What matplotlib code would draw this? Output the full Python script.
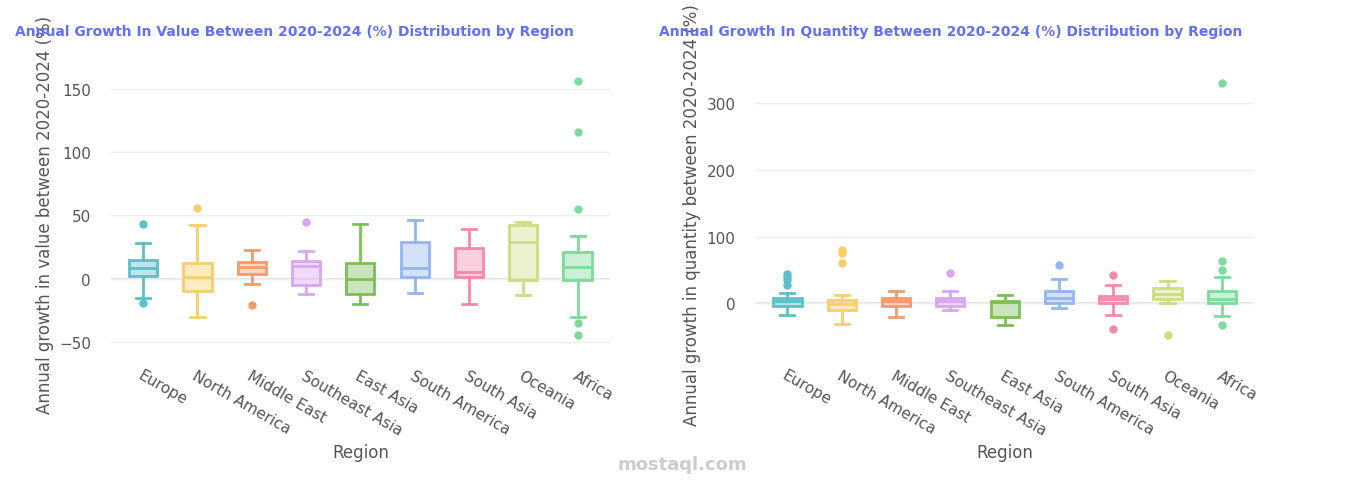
import matplotlib.pyplot as plt

regions = ["Europe", "North America", "Middle East", "Southeast Asia", "East Asia",
           "South America", "South Asia", "Oceania", "Africa"]
colors = ["#5bc0c8", "#f7cf6a", "#f59a6a", "#d9a6f2", "#7cbf55",
          "#93b5f2", "#f589ab", "#cfdc80", "#7ddb9a"]

# value growth: low whisker, q1, median, q3, high whisker, outliers
value_low = [-15, -30, -4, -12, -20, -11, -20, -13, -30]
value_q1 = [2, -10, 4, -5, -12, 1, 1, -1, -1]
value_med = [8, 1, 9, 10, 0, 8, 5, 29, 9]
value_q3 = [15, 12, 13, 14, 12, 29, 24, 42, 21]
value_high = [28, 42, 23, 22, 43, 46, 39, 45, 34]
value_out = [[43, -19], [56], [-21], [45], [], [], [], [], [156, 116, 55, -35, -45]]

qty_low = [-17, -30, -20, -10, -32, -6, -17, 0, -18]
qty_q1 = [-3, -10, -4, -4, -20, 0, 0, 6, 1]
qty_med = [3, -1, 3, 3, 2, 8, 6, 14, 7]
qty_q3 = [8, 5, 8, 8, 4, 19, 11, 23, 18]
qty_high = [16, 12, 19, 19, 12, 36, 28, 33, 39]
qty_out = [[27, 35, 40, 44], [60, 76, 80], [], [46], [], [58], [43, -38], [-47], [330, 63, 50, -32]]


def draw(ax, low, q1, med, q3, high, out, ylabel, ylim, ticks):
    for i in range(len(regions)):
        st = [dict(whislo=low[i], q1=q1[i], med=med[i], q3=q3[i], whishi=high[i], fliers=out[i])]
        c = colors[i]
        ax.bxp(st, positions=[i], widths=0.52, patch_artist=True,
               boxprops=dict(facecolor=c + "66", edgecolor=c, linewidth=2),
               medianprops=dict(color=c, linewidth=2),
               whiskerprops=dict(color=c, linewidth=2),
               capprops=dict(color=c, linewidth=2),
               flierprops=dict(marker="o", markerfacecolor=c, markeredgecolor=c, markersize=5))
    ax.set_xlim(-0.6, len(regions) - 0.4)
    ax.set_ylim(*ylim)
    ax.set_yticks(ticks)
    ax.set_xticks(range(len(regions)))
    ax.set_xticklabels(regions, rotation=-30, ha="left", rotation_mode="anchor", fontsize=11, color="#555")
    ax.tick_params(axis="y", labelsize=11, labelcolor="#555", length=0, pad=14)
    ax.tick_params(axis="x", length=0, pad=0)
    ax.grid(axis="y", color="#eeeeee", linewidth=1)
    ax.axhline(0, color="#e0e0e0", linewidth=1.2, zorder=0)
    ax.set_axisbelow(True)
    for s in ax.spines.values():
        s.set_visible(False)
    ax.set_xlabel("Region", fontsize=12, color="#555", labelpad=4)
    ax.set_ylabel(ylabel, fontsize=12, color="#555")


fig = plt.figure(figsize=(13.65, 4.85), dpi=100)
ax1 = fig.add_axes([0.081, 0.241, 0.366, 0.631])
ax2 = fig.add_axes([0.553, 0.241, 0.366, 0.631])
draw(ax1, value_low, value_q1, value_med, value_q3, value_high, value_out,
     "Annual growth in value between 2020-2024 (%)", (-70, 172), [-50, 0, 50, 100, 150])
draw(ax2, qty_low, qty_q1, qty_med, qty_q3, qty_high, qty_out,
     "Annual growth in quantity between 2020-2024 (%)", (-95, 362), [0, 100, 200, 300])
fig.text(0.011, 0.925, "Annual Growth In Value Between 2020-2024 (%) Distribution by Region",
         fontsize=10, fontweight="bold", color="#636efa")
fig.text(0.483, 0.925, "Annual Growth In Quantity Between 2020-2024 (%) Distribution by Region",
         fontsize=10, fontweight="bold", color="#636efa")
fig.text(0.5, 0.03, "mostaql.com", ha="center", fontsize=13, color="#cccccc", fontweight="bold")
fig.savefig("out.png", dpi=100)
